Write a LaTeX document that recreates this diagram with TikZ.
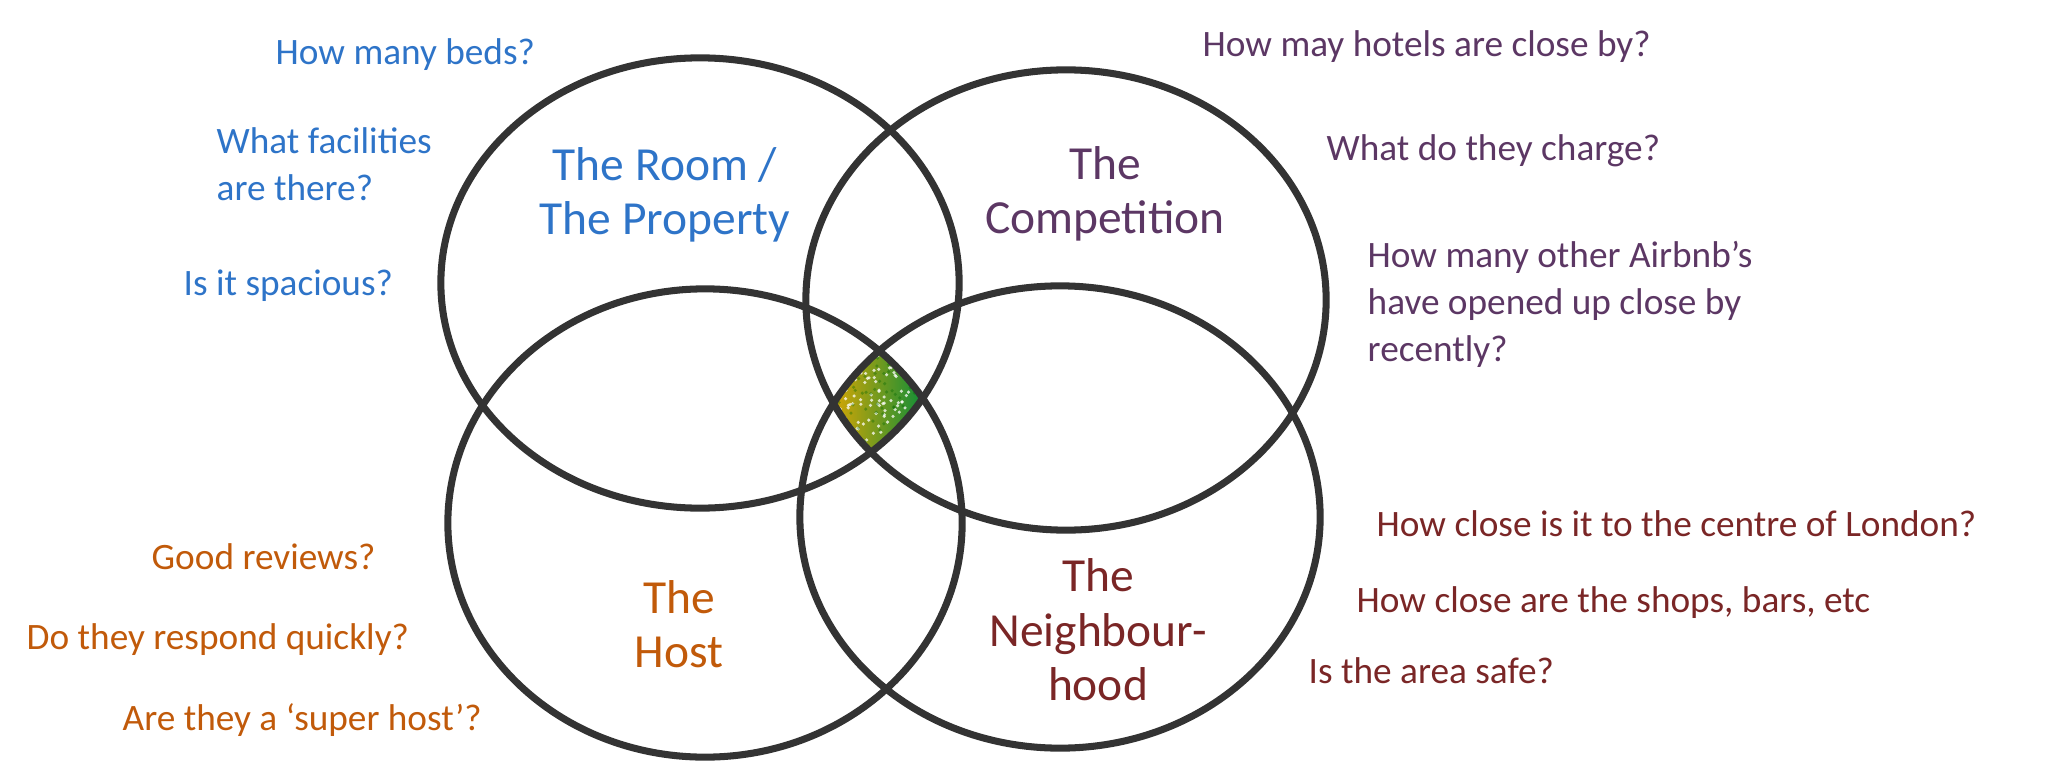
\documentclass[tikz,border=0pt]{standalone}
\usepackage{fontspec}
\setmainfont{Carlito}
\usepackage{xcolor}
\usepackage{tikz}
\usetikzlibrary{positioning}

\definecolor{roomblue}{RGB}{46,116,200}
\definecolor{comppurple}{RGB}{92,55,100}
\definecolor{hostorange}{RGB}{193,90,10}
\definecolor{neighred}{RGB}{122,38,38}
\definecolor{ringgray}{RGB}{51,51,51}
\definecolor{glitgold}{RGB}{232,168,0}
\definecolor{glitlime}{RGB}{160,190,30}
\definecolor{glitgreen}{RGB}{0,140,60}

\begin{document}
\begin{tikzpicture}[x=0.01cm, y=-0.01cm,
  ring/.style={draw=ringgray, line width=2pt},
  ask/.style={anchor=west, align=left, inner sep=0pt, font=\fontsize{10.6}{13.4}\selectfont},
  title/.style={align=center, inner sep=0pt, font=\fontsize{13.5}{15.5}\selectfont}]
\useasboundingbox (0,0) rectangle (2055,770);

% the sweet spot in the middle
\begin{scope}
  \clip (700,283) ellipse [x radius=2.59cm, y radius=2.25cm];
  \clip (1066,300) ellipse [x radius=2.60cm, y radius=2.30cm];
  \clip (705,523) ellipse [x radius=2.57cm, y radius=2.34cm];
  \clip (1060,517) ellipse [x radius=2.60cm, y radius=2.31cm];
  \shade[left color=glitgold, middle color=glitlime, right color=glitgreen] (825,345) rectangle (930,460);
  \pgfmathsetseed{11}
  \foreach \k in {1,...,160}
    \fill[white, opacity=0.75] (828+100*rnd, 348+110*rnd) circle (0.5pt);
  \foreach \k in {1,...,90}
    \fill[black!60!green, opacity=0.35] (828+100*rnd, 348+110*rnd) circle (0.5pt);
\end{scope}

% the four circles
\draw[ring] (700,283) ellipse [x radius=2.59cm, y radius=2.25cm];
\draw[ring] (1066,300) ellipse [x radius=2.60cm, y radius=2.30cm];
\draw[ring] (705,523) ellipse [x radius=2.57cm, y radius=2.34cm];
\draw[ring] (1060,517) ellipse [x radius=2.60cm, y radius=2.31cm];

% titles
\node[title, text=roomblue] (room) at (665,195) {The Room /\\The Property};
\node[title, text=comppurple] (comp) at (1105,194) {The\\Competition};
\node[title, text=hostorange] (host) at (679,624) {The\\Host};
\node[title, text=neighred] (neigh) at (1098,630) {The\\Neighbour-\\hood};

% the room
\node[ask, text=roomblue] (beds) at (275,55) {How many beds?};
\node[ask, text=roomblue] (facil) at (216,164) {What facilities\\are there?};
\node[ask, text=roomblue] (space) at (183,286) {Is it spacious?};

% the competition
\node[ask, text=comppurple] (hotels) at (1202,47) {How may hotels are close by?};
\node[ask, text=comppurple] (charge) at (1326,151) {What do they charge?};
\node[ask, text=comppurple] (airbnb) at (1367,304) {How many other Airbnb’s\\have opened up close by\\recently?};

% the host
\node[ask, text=hostorange] (reviews) at (151,557) {Good reviews?};
\node[ask, text=hostorange] (respond) at (26,640) {Do they respond quickly?};
\node[ask, text=hostorange] (super) at (122,720) {Are they a ‘super host’?};

% the neighbourhood
\node[ask, text=neighred] (london) at (1376,524) {How close is it to the centre of London?};
\node[ask, text=neighred] (shops) at (1356,603) {How close are the shops, bars, etc};
\node[ask, text=neighred] (safe) at (1308,671) {Is the area safe?};
\end{tikzpicture}
\end{document}
